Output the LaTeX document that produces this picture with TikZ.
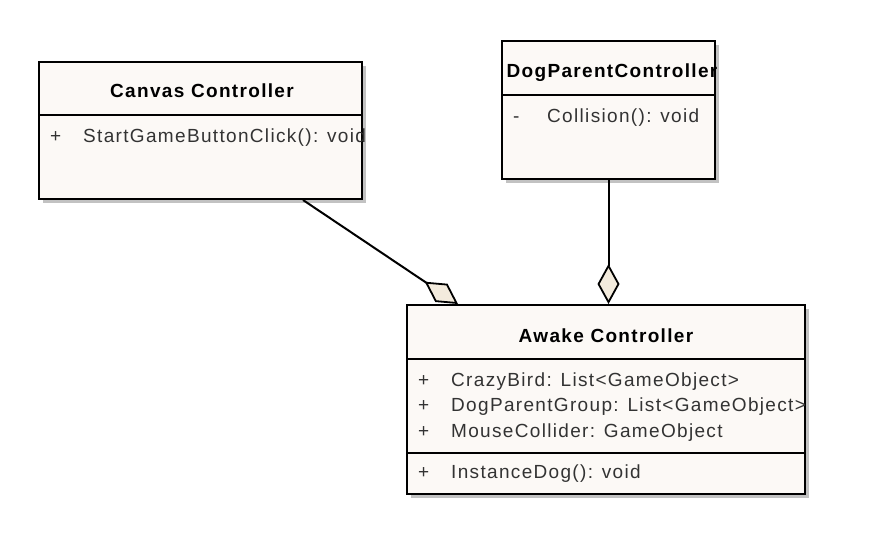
\documentclass[tikz,border=0pt]{standalone}
\usepackage{fontspec}
\setmainfont{Liberation Sans}[LetterSpace=7]
\usetikzlibrary{arrows.meta,calc,shadows}
\definecolor{boxfill}{HTML}{FCF9F6}
\definecolor{diamondfill}{HTML}{F3EBDD}
\definecolor{membertext}{HTML}{333333}
\tikzset{
  classbox/.style={draw, line width=2pt, fill=boxfill, inner sep=0pt,
    drop shadow={shadow xshift=4pt, shadow yshift=-4pt, fill=black!40, opacity=.6}},
  classname/.style={anchor=base, inner sep=0pt, font=\fontsize{19}{23}\selectfont\bfseries},
  member/.style={anchor=base west, inner sep=0pt, text=membertext, font=\fontsize{19}{23}\selectfont},
  divider/.style={line width=1.5pt},
  aggregation/.style={line width=2pt,
    -{Diamond[length=40pt, width=22pt, fill=diamondfill, line width=1.8pt]}}
}
\begin{document}
\begin{tikzpicture}[x=1pt, y=-1pt]
        \useasboundingbox (0,0) rectangle (869,549);
        % Canvas Controller
        \node[classbox, minimum width=323pt, minimum height=137pt] (canvas) at (200.5,130.5) {};
        \node[classname] (canvas-name) at (202,97) {Canvas Controller};
        \draw[divider] (canvas.west |- 0,115) -- (canvas.east |- 0,115);
        \node[member] (canvas-op-vis) at (50,142) {+};
        \node[member] (canvas-op) at (83,142) {StartGameButtonClick(): void};
        % DogParentController
        \node[classbox, minimum width=213pt, minimum height=138pt] (dog) at (608.5,110) {};
        \begin{scope}
          \clip (dog.north west) rectangle (dog.south east);
          \node[classname] (dog-name) at (612,77) {DogParentController};
        \end{scope}
        \draw[divider] (dog.west |- 0,95) -- (dog.east |- 0,95);
        \node[member] (dog-op-vis) at (513,122) {-};
        \node[member] (dog-op) at (547,122) {Collision(): void};
        % Awake Controller
        \node[classbox, minimum width=398pt, minimum height=189pt] (awake) at (606,399.5) {};
        \node[classname] (awake-name) at (606,342) {Awake Controller};
        \draw[divider] (awake.west |- 0,359) -- (awake.east |- 0,359);
        \draw[divider] (awake.west |- 0,453) -- (awake.east |- 0,453);
        \node[member] (awake-at1-vis) at (418,386) {+};
        \node[member] (awake-at1) at (451,386) {CrazyBird: List<GameObject>};
        \node[member] (awake-at2-vis) at (418,411) {+};
        \node[member] (awake-at2) at (451,411) {DogParentGroup: List<GameObject>};
        \node[member] (awake-at3-vis) at (418,437) {+};
        \node[member] (awake-at3) at (451,437) {MouseCollider: GameObject};
        \node[member] (awake-op-vis) at (418,478) {+};
        \node[member] (awake-op) at (451,478) {InstanceDog(): void};
        % aggregations
        \coordinate (canvas-end) at ($(canvas.south west)+(265,0)$);
        \coordinate (awake-in) at ($(awake.north west)+(52,0)$);
        \draw[aggregation] (canvas-end) -- (awake-in);
        \draw[aggregation] (dog.south) -- (dog.south |- awake.north);
\end{tikzpicture}
\end{document}
